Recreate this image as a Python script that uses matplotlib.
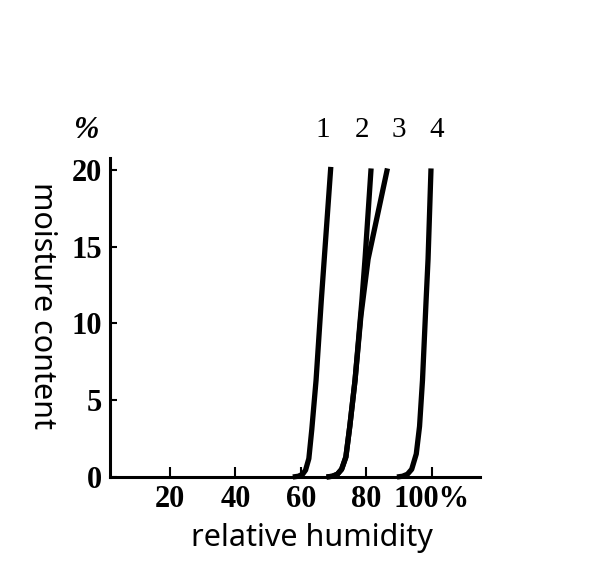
import matplotlib.pyplot as plt
import numpy as np

# curve data (relative humidity %, moisture content %)
c1_x = [57.5, 59.2, 60.5, 61.4, 62.4, 63.3, 64.6, 66.2, 67.1, 69.1]
c1_y = [0, 0.05, 0.18, 0.45, 1.2, 3.1, 6.3, 11.5, 14.2, 20.2]

c2_x = [67.8, 69.6, 71.1, 72.4, 73.7, 74.9, 76.5, 78.6, 79.6, 81.4]
c2_y = [0, 0.05, 0.18, 0.5, 1.3, 3.3, 6.3, 11.5, 14.35, 20.1]

c3_x = [67.8, 69.6, 71.1, 72.4, 73.7, 74.9, 76.5, 78.3, 80.5, 86.4]
c3_y = [0, 0.05, 0.18, 0.5, 1.3, 3.3, 6.3, 10.5, 14.2, 20.1]

c4_x = [89.3, 91.0, 92.5, 93.8, 95.2, 96.2, 97.1, 98.2, 98.8, 99.7]
c4_y = [0, 0.05, 0.18, 0.5, 1.5, 3.3, 6.3, 11.5, 14.2, 20.1]

curvas = [(c1_x, c1_y), (c2_x, c2_y), (c3_x, c3_y), (c4_x, c4_y)]
nombres = ["1", "2", "3", "4"]

x_ticks = [20, 40, 60, 80, 100]
x_labels = ["20", "40", "60", "80", "100%"]
y_ticks = [0, 5, 10, 15, 20]
y_labels = ["0", "5", "10", "15", "20"]

W, H = 613, 577
fig = plt.figure(figsize=(W / 100, H / 100), dpi=100)
ax = fig.add_axes([110 / W, 100 / H, 370 / W, 319 / H])

for cx, cy in curvas:
    ax.plot(cx, cy, color="black", linewidth=3.8, clip_on=False,
            solid_capstyle="butt", solid_joinstyle="round")

# etiquetas de curvas encima
pos_nombres = [66.7, 78.6, 89.9, 101.5]
for n, px in zip(nombres, pos_nombres):
    ax.text(px, 22.6, n, ha="center", va="center", fontsize=21,
            family="Liberation Serif", clip_on=False)

ax.set_xlim(1.68, 114.66)
ax.set_ylim(0, 20.78)

for s in ["top", "right"]:
    ax.spines[s].set_visible(False)
for s in ["left", "bottom"]:
    ax.spines[s].set_linewidth(2.2)

ax.set_xticks(x_ticks)
ax.set_xticklabels(x_labels)
ax.set_yticks(y_ticks)
ax.set_yticklabels(y_labels)
ax.tick_params(axis="x", direction="in", length=7, width=1.5, pad=6)
ax.tick_params(axis="y", direction="in", length=5, width=1.5, pad=6)
for lab in ax.get_xticklabels() + ax.get_yticklabels():
    lab.set_family("Liberation Serif")
    lab.set_fontweight("bold")
    lab.set_fontsize(22)

fig.text(86 / W, 1 - 130 / H, "%", ha="center", va="center", fontsize=22,
         family="Liberation Serif", fontweight="bold", style="italic")
fig.text(312 / W, 1 - 538 / H, "relative humidity", ha="center", va="center",
         fontsize=22, family="Noto Sans")
fig.text(42 / W, 1 - 305 / H, "moisture content", ha="center", va="center",
         fontsize=22, family="Noto Sans", rotation=-90)

fig.savefig("out.png", dpi=100)
